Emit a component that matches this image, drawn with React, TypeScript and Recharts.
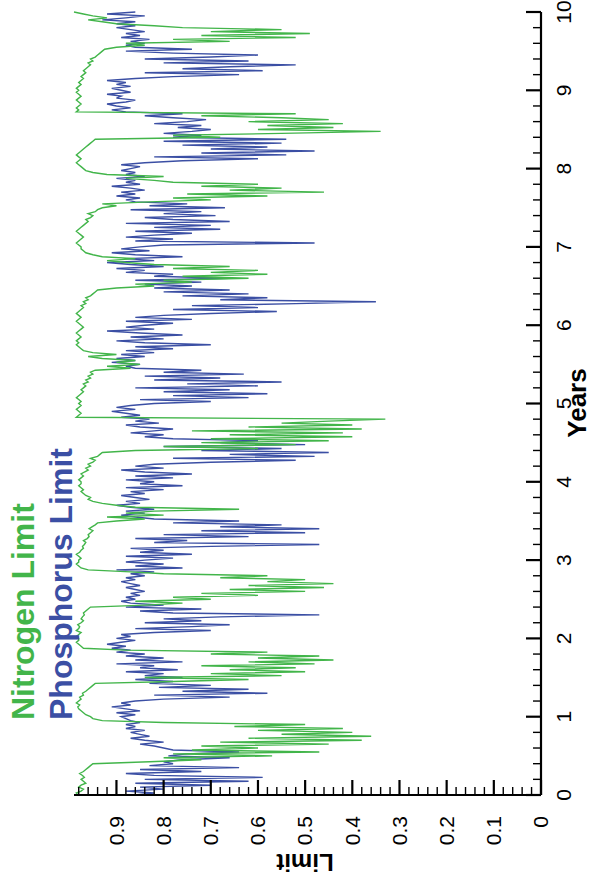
import React from 'react';
import { LineChart, Line, XAxis, YAxis } from 'recharts';

const STEP = 0.025;

const nitrogen0 = [0.98,0.985,0.975,0.97,0.98,0.975,0.965,0.97,0.975,0.968,0.972,0.978,0.97,0.965,0.96,0.955,0.95,
  0.83,0.72,0.80,0.57,0.78,0.47,0.74,0.60,0.72,0.45,0.68,0.38,0.62,0.36,0.55,0.40,0.60,0.42,0.65,0.50,0.80,0.93,0.95];
const nitrogen1 = [0.955,0.965,0.97,0.975,0.98,0.982,0.978,0.985,0.98,0.975,0.978,0.97,0.972,0.965,0.96,0.955,0.95,0.945,
  0.78,0.62,0.84,0.55,0.70,0.50,0.66,0.52,0.72,0.48,0.62,0.44,0.60,0.47,0.70,0.58,0.88,
  0.97,0.975,0.98,0.985,0.98];
const nitrogen2 = [0.98,0.985,0.98,0.975,0.985,0.98,0.978,0.982,0.975,0.97,0.975,0.972,0.968,0.97,0.965,0.96,0.955,
  0.84,0.76,0.86,0.70,0.78,0.60,0.72,0.50,0.66,0.46,0.62,0.44,0.58,0.50,0.68,0.58,0.80,
  0.87,0.96,0.975,0.98,0.985,0.98];
const nitrogen3 = [0.98,0.975,0.98,0.985,0.978,0.975,0.97,0.972,0.968,0.965,0.97,0.962,0.958,0.96,0.955,0.95,0.958,0.952,0.945,0.94,
  0.90,0.84,0.92,0.80,0.88,0.82,0.64,0.86,0.90,
  0.93,0.95,0.96,0.955,0.965,0.97,0.975,0.97,0.975,0.98,0.975];
const nitrogen4 = [0.975,0.98,0.975,0.97,0.975,0.968,0.96,0.965,0.955,0.96,0.95,0.945,0.955,0.94,0.935,0.93,
  0.86,0.60,0.80,0.52,0.72,0.45,0.70,0.40,0.66,0.42,0.74,0.38,0.62,0.40,0.55,0.45,0.33,
  0.985,0.98,0.975,0.98,0.985,0.98,0.975];
const nitrogen5 = [0.98,0.975,0.98,0.985,0.98,0.975,0.97,0.975,0.97,0.965,0.97,0.96,0.965,0.955,0.96,0.95,0.955,0.945,
  0.87,0.92,0.85,0.90,0.86,0.93,0.96,0.90,0.95,
  0.97,0.975,0.98,0.985,0.98,0.985,0.98,0.975,0.98,0.985,0.98,0.975,0.97];
const nitrogen6 = [0.975,0.98,0.985,0.98,0.975,0.98,0.985,0.98,0.975,0.97,0.975,0.965,0.97,0.96,0.965,0.955,0.95,0.945,0.94,
  0.90,0.82,0.86,0.74,0.80,0.62,0.76,0.58,0.70,0.60,0.78,0.66,0.82,0.88,0.92,0.86,0.93,
  0.95,0.965,0.97,0.975];
const nitrogen7 = [0.975,0.98,0.985,0.98,0.975,0.97,0.975,0.98,0.985,0.98,0.975,0.97,0.965,0.96,0.965,0.955,0.95,0.96,0.945,0.94,0.93,0.90,0.93,
  0.83,0.70,0.78,0.58,0.75,0.46,0.66,0.55,0.72,0.60,0.78,0.82,0.88,0.80,0.92,
  0.95,0.965];
const nitrogen8 = [0.97,0.975,0.98,0.985,0.98,0.975,0.98,0.985,0.98,0.975,0.97,0.965,0.96,0.955,0.95,0.945,
  0.68,0.78,0.55,0.34,0.60,0.44,0.58,0.42,0.62,0.45,0.55,0.72,0.52,
  0.985,0.98,0.985,0.98,0.975,0.98,0.985,0.98,0.975,0.98,0.985];
const nitrogen9 = [0.98,0.985,0.98,0.975,0.98,0.975,0.97,0.975,0.97,0.965,0.97,0.965,0.96,0.955,0.96,0.95,0.955,0.945,0.94,0.935,0.93,0.925,
  0.90,0.84,0.88,0.66,0.78,0.52,0.72,0.49,0.70,0.55,0.76,0.82,
  0.90,0.93,0.96,0.92,0.95,0.97];
const nitrogenEnd = 0.99;

const phosphorus0 = [0.86,0.82,0.88,0.80,0.85,
  0.70,0.86,0.62,0.84,0.59,0.82,0.88,0.72,0.85,0.64,0.83,0.78,
  0.80,0.76,0.66,0.79,0.75,0.64,0.78,0.80,
  0.82,0.85,0.80,0.84,0.87,0.83,
  0.85,0.87,0.84,0.88,0.86,0.88,0.85,0.87,0.88];
const phosphorus1 = [0.89,0.86,0.90,0.85,0.88,0.91,0.87,0.89,0.86,
  0.80,0.66,0.82,0.58,0.76,0.62,0.81,0.70,
  0.83,0.78,0.86,0.76,0.84,0.80,0.88,0.77,0.85,
  0.82,0.90,0.76,0.86,0.80,0.88,0.84,
  0.90,0.87,0.91,0.88,0.92,0.89,0.86];
const phosphorus2 = [0.90,0.87,0.89,
  0.82,0.70,0.86,0.74,0.66,0.84,0.72,0.80,0.68,0.47,0.78,0.85,0.72,0.88,0.80,
  0.87,0.89,0.86,0.88,0.85,0.87,0.84,0.86,0.88,0.85,0.87,0.89,0.86,0.88,0.84,0.87,
  0.82,0.90,0.76,0.86,0.80,0.88];
const phosphorus3 = [0.84,0.78,0.88,0.74,0.85,0.80,0.87,
  0.70,0.47,0.82,0.75,0.86,
  0.62,0.80,0.50,0.72,0.47,0.68,0.55,0.78,0.64,0.82,
  0.86,0.89,0.84,0.88,0.82,0.87,0.90,0.85,0.88,0.83,0.86,0.89,0.84,0.87,
  0.80,0.88,0.76,0.85];
const phosphorus4 = [0.82,0.88,0.78,0.86,0.74,0.84,0.89,0.80,0.86,0.82,
  0.70,0.52,0.78,0.48,0.66,0.45,0.72,0.55,0.80,0.50,0.68,0.60,0.78,
  0.84,0.80,0.87,0.82,0.78,0.85,0.88,0.81,0.86,0.83,0.89,0.85,
  0.88,0.91,0.86,0.90,0.87];
const phosphorus5 = [0.82,0.70,0.85,0.62,0.78,0.58,0.80,0.66,0.86,0.60,0.75,0.55,0.82,0.68,0.84,0.63,0.80,0.72,0.86,
  0.88,0.85,0.91,0.86,0.90,0.84,0.89,
  0.82,0.88,0.78,0.86,0.70,0.84,0.90,0.80,0.87,0.76,0.85,0.92,0.82,0.88];
const phosphorus6 = [0.84,0.78,0.88,0.74,0.86,0.80,
  0.70,0.56,0.78,0.60,0.74,0.52,0.35,0.68,0.58,0.76,0.62,0.80,0.66,0.82,0.74,
  0.84,0.72,0.86,0.66,0.82,0.78,0.88,
  0.84,0.90,0.80,0.87,0.92,0.82,0.88,0.76,0.86,0.91,0.83,0.89];
const phosphorus7 = [0.85,0.80,0.48,0.86,0.78,0.88,0.82,
  0.74,0.86,0.68,0.82,0.70,0.88,0.66,0.78,0.84,0.69,0.80,0.72,0.87,0.67,0.83,0.75,0.86,
  0.88,0.85,0.90,0.86,0.89,0.84,0.87,0.91,0.85,0.88,0.86,0.90,0.84,0.88,0.86,0.89];
const phosphorus8 = [0.87,0.85,0.89,0.84,
  0.76,0.60,0.82,0.54,0.72,0.48,0.70,0.58,0.76,0.55,0.80,0.54,
  0.78,0.72,0.80,0.74,0.70,0.77,0.72,0.82,0.75,0.71,0.78,0.84,0.76,
  0.88,0.91,0.87,0.90,0.92,0.88,0.86,0.90,0.89,0.92,0.87];
const phosphorus9 = [0.89,0.91,0.87,0.90,0.88,0.92,0.86,
  0.78,0.64,0.84,0.59,0.76,0.66,0.52,0.80,0.62,0.84,0.70,0.60,0.78,0.88,0.74,
  0.86,0.88,0.84,0.87,0.83,0.89,0.85,0.88,0.84,0.87,0.90,0.86,
  0.90,0.86,0.93,0.88,0.84,0.92];
const phosphorusEnd = 0.86;

const nitrogenByYear = [nitrogen0, nitrogen1, nitrogen2, nitrogen3, nitrogen4, nitrogen5, nitrogen6, nitrogen7, nitrogen8, nitrogen9];
const phosphorusByYear = [phosphorus0, phosphorus1, phosphorus2, phosphorus3, phosphorus4, phosphorus5, phosphorus6, phosphorus7, phosphorus8, phosphorus9];

const yearTicks = [0,0.2,0.4,0.6,0.8,1,1.2,1.4,1.6,1.8,2,2.2,2.4,2.6,2.8,3,3.2,3.4,3.6,3.8,4,4.2,4.4,4.6,4.8,5,5.2,5.4,5.6,5.8,6,6.2,6.4,6.6,6.8,7,7.2,7.4,7.6,7.8,8,8.2,8.4,8.6,8.8,9,9.2,9.4,9.6,9.8,10];
const yearLabels = [0,1,2,3,4,5,6,7,8,9,10];
const limitTicks = [0,0.02,0.04,0.06,0.08,0.1,0.12,0.14,0.16,0.18,0.2,0.22,0.24,0.26,0.28,0.3,0.32,0.34,0.36,0.38,0.4,0.42,0.44,0.46,0.48,0.5,0.52,0.54,0.56,0.58,0.6,0.62,0.64,0.66,0.68,0.7,0.72,0.74,0.76,0.78,0.8,0.82,0.84,0.86,0.88,0.9,0.92,0.94,0.96,0.98];
const limitLabels = [0,0.1,0.2,0.3,0.4,0.5,0.6,0.7,0.8,0.9];

const data: { year: number; nitrogen: number; phosphorus: number }[] = [];
nitrogenByYear.forEach((vals, k) => {
  vals.forEach((v, j) => {
    data.push({ year: Math.round((k + j * STEP) * 1000) / 1000, nitrogen: v, phosphorus: phosphorusByYear[k][j] });
  });
});
data.push({ year: 10, nitrogen: nitrogenEnd, phosphorus: phosphorusEnd });

const GREEN = '#42b54a';
const BLUE = '#3b4fa4';
const FONT = '"Liberation Sans", Arial, Helvetica, sans-serif';

const isIn = (arr: number[], v: number) => arr.some((a) => Math.abs(a - v) < 1e-6);

const YearTick = (props: any) => {
  const { x, y, payload } = props;
  const v = payload.value;
  const major = isIn(yearLabels, v);
  return (
    <g>
      <line x1={x} y1={y} x2={x} y2={y - (major ? 15 : 8)} stroke="#000" strokeWidth={major ? 2.2 : 1.4} />
      {major && (
        <text x={x} y={y + 30} textAnchor="middle" fontFamily={FONT} fontSize={21} fill="#000">
          {String(v)}
        </text>
      )}
    </g>
  );
};

const LimitTick = (props: any) => {
  const { x, y, payload } = props;
  const v = payload.value;
  const major = isIn(limitLabels, v);
  return (
    <g>
      <line x1={x} y1={y} x2={x + (major ? 15 : 8)} y2={y} stroke="#000" strokeWidth={major ? 2.2 : 1.4} />
      {major && (
        <text x={x - 21} y={y} dy="0.35em" textAnchor="end" fontFamily={FONT} fontSize={21} fill="#000">
          {v === 0 ? '0' : v.toFixed(1)}
        </text>
      )}
    </g>
  );
};

export default function App() {
  return (
    <div style={{ position: 'absolute', left: 0, top: 0, width: 593, height: 888, overflow: 'hidden', background: '#fff' }}>
      <div
        style={{
          position: 'absolute',
          left: 0,
          top: 888,
          width: 888,
          height: 593,
          transform: 'rotate(-90deg)',
          transformOrigin: '0 0',
        }}
      >
        <LineChart width={888} height={593} data={data} margin={{ top: 74, right: 12, bottom: 0, left: 0 }}>
          <XAxis
            dataKey="year"
            type="number"
            domain={[0, 10]}
            ticks={yearTicks}
            interval={0}
            height={52}
            tickSize={0}
            tickMargin={0}
            tickLine={false}
            axisLine={{ stroke: '#000', strokeWidth: 2.2 }}
            tick={(p: any) => <YearTick {...p} />}
          />
          <YAxis
            type="number"
            domain={[0, 0.99]}
            ticks={limitTicks}
            interval={0}
            width={93}
            tickSize={0}
            tickMargin={0}
            tickLine={false}
            axisLine={{ stroke: '#000', strokeWidth: 2.2 }}
            tick={(p: any) => <LimitTick {...p} />}
          />
          <Line type="linear" dataKey="phosphorus" stroke={BLUE} strokeWidth={1.4} dot={false} isAnimationActive={false} />
          <Line type="linear" dataKey="nitrogen" stroke={GREEN} strokeWidth={1.4} dot={false} isAnimationActive={false} />
        </LineChart>
        <svg width={888} height={593} style={{ position: 'absolute', left: 0, top: 0, pointerEvents: 'none' }}>
          <text x={168} y={34} fontFamily={FONT} fontSize={32} fontWeight="bold" fill={GREEN}>Nitrogen Limit</text>
          <text x={168} y={72} fontFamily={FONT} fontSize={32} fontWeight="bold" fill={BLUE}>Phosphorus Limit</text>
          <text x={485} y={586} textAnchor="middle" fontFamily={FONT} fontSize={26} fontWeight="bold" fill="#000">Years</text>
          <text transform="translate(34,305) rotate(-90)" textAnchor="middle" fontFamily={FONT} fontSize={24} fontWeight="bold" fill="#000">Limit</text>
        </svg>
      </div>
    </div>
  );
}
